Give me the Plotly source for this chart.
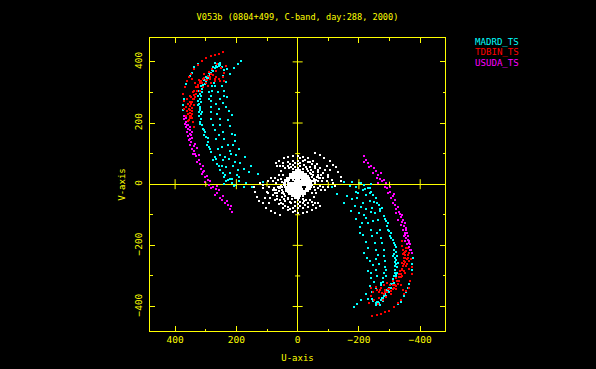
import plotly.graph_objects as go

TITLE = "V053b (0804+499, C-band, day:288, 2000)"
major_ticks = [-400, -200, 0, 200, 400]
minor_ticks = [-300, -100, 100, 300]

madrid_uv = [
 (326,392),(337,384),(346,365),(353,354),(361,338),(363,327),(372,279),(374,260),(375,241),
 (255,396),(261,392),(266,387),(271,379),(275,371),(282,365),(288,354),(293,347),(299,338),(304,327),
 (310,317),(313,300),(317,289),(318,279),(317,268),(318,254),(318,241),(315,228),(315,214),(313,192),
 (310,181),(302,170),(299,154),(293,138),(288,121),(282,105),(275,78),(264,67),(255,46),(239,24),(228,13),
 (270,395),(258,385),(277,382),(290,365),(298,352),(306,340),(316,322),(322,305),(325,290),(324,272),
 (326,258),(323,236),(322,222),(320,205),(306,160),(296,128),(270,88),(248,58),(236,30),
 (231,376),(244,354),(255,338),(271,322),(279,306),(282,289),(284,271),(284,251),(283,235),(282,214),
 (275,192),(271,176),(268,149),(261,116),(252,94),(244,78),(235,56),(222,35),(214,18),(208,-5),
 (184,403),(195,392),(208,379),(222,360),(235,333),(239,306),(255,279),(257,246),(255,214),(252,192),
 (244,170),(239,149),(228,127),(217,100),(206,73),(195,46),(190,24),(176,-8),
 (231,284),(235,251),(228,210),(222,189),(214,165),(203,140),(190,115),(173,89),(152,60),(130,33),(113,8),
 (260,300),(248,320),(266,262),(262,230),(258,160),(246,120),(224,82),(212,60),(198,30),(150,-8),
 (263,384),(279,372),(286,360),(296,345),(308,325),(312,310),(320,296),(322,262),(320,248),(312,236),
 (318,198),(306,176),(294,150),(285,115),(268,82),(258,60),(245,36),(220,16),(235,12),(190,10),(200,-3),
 (215,3),(240,0),(170,5),(255,390),(246,382),(242,375),(272,330),(280,320),(288,300),(290,280),(240,290),
 (245,265),(225,240),(215,225),(205,160),(210,128),(222,110),(238,90),(200,95),(188,70),(176,50),(160,40),
]
tdbin_uv = [
 (244,431),(258,427),(271,424),(284,418),(299,414),(313,402),(326,389),(337,378),(348,360),(355,349),
 (362,338),(367,317),(373,295),(372,271),(370,246),(364,224),(359,208),(340,186),
 (233,387),(250,379),(266,371),(282,360),(293,354),(310,344),(320,333),(331,317),(342,300),(348,284),
 (353,268),(356,246),(359,230),(353,217),(342,203),
 (239,338),(255,336),(271,338),(282,331),(293,322),(310,317),(320,306),(331,295),(342,279),(348,262),
 (351,241),(348,224),
 (315,338),(322,342),(312,330),(326,325),(305,348),(298,342),(288,368),(276,356),(265,352),
 (338,305),(335,285),(345,268),(340,258),(360,240),(352,232),(346,250),(364,252),(344,228),
 (300,330),(286,345),(262,392),(278,378),
 (318,330),(325,318),(330,305),(337,292),(340,278),(346,240),(350,222),(355,210),(344,215),(350,290),
 (305,360),(295,342),(285,352),(270,345),(258,345),(245,352),(240,365),(352,255),(358,262),(362,278),
 (336,330),(345,345),
]
usuda_uv = [
 (372,224),(370,214),(367,197),(364,186),(359,181),(353,176),(361,170),(357,159),(353,149),(348,138),
 (355,143),(351,127),(344,116),(337,108),(342,100),(331,91),(322,94),(329,73),(318,67),(317,51),
 (310,40),(313,33),(302,24),(293,13),(302,8),(288,-3),(275,-9),(282,-14),(268,-17),(271,-36),(262,-30),
 (248,-52),(255,-44),(229,-68),(238,-60),(215,-91),(222,-80),(365,205),(358,195),(349,160),(340,125),
 (366,215),(362,192),(352,186),(346,170),(345,150),(336,132),(328,118),(334,98),(322,80),(310,60),
 (305,44),(296,28),(285,10),(262,-5),(258,-20),(245,-38),(232,-55),(218,-72),(352,165),
]
other_uv = [
 (60,77),(46,85),(31,90),(16,93),(0,93),(-16,90),(-33,85),(-49,77),(-62,66),(-74,52),(-82,36),(-82,20),
 (-58,101),(-74,94),(-87,87),(-104,77),(-114,63),(-125,55),(-133,41),(-140,25),(-142,9),(-114,3),(-123,-5),
 (49,68),(33,74),(16,77),(0,77),(-16,77),(-33,74),(-47,66),(-58,52),(-68,39),(-74,20),
 (33,60),(16,63),(0,66),(-22,63),(-40,55),(-51,41),(-62,23),(-65,9),
 (16,50),(0,52),(-18,50),(-33,44),(-44,33),(-52,18),(-55,5),
 (98,9),(82,9),(65,14),(112,-13),(98,-29),(82,-35),(70,-20),(58,-12),(66,-30),
 (72,70),(66,60),(58,60),(48,58),(40,52),(28,52),(-8,86),(-25,80),(-41,72),(-55,60),(-66,48),(-75,30),
 (-78,12),(-68,28),(-60,14),(8,70),(-8,70),(25,67),(-26,57),(-45,47),(-50,30),(-58,8),
 (22,55),(8,57),(-8,59),(-30,50),(-40,38),(-48,24),(-50,10),(54,42),(60,30),(48,30),(55,18),(52,8),(72,5),
 (-90,45),(-95,60),(-105,45),(-100,25),(-95,10),(75,20),(88,20),
 (46,3),(40,3),(33,3),(26,3),(20,3),(13,3),(7,3),(0,3),(-7,3),(-13,3),(-20,3),(-26,3),(-33,3),(-40,3),(-44,3),
 (42,9),(36,9),(30,9),(10,9),(3,9),(-3,9),(-10,9),(-16,9),(-23,9),(-29,9),(-36,9),(-42,9),
 (40,15),(34,15),(27,15),(14,15),(7,15),(0,15),(-6,15),(-13,15),(-20,15),(-26,15),(-33,15),(-39,15),
 (35,21),(28,21),(22,21),(15,21),(9,21),(2,21),(-5,21),(-11,21),(-18,21),(-24,21),(-31,21),(-37,21),
 (24,27),(18,27),(12,27),(5,27),(-1,27),(-8,27),(-14,27),(-21,27),(-27,27),(-33,27),
 (24,33),(18,33),(11,33),(4,33),(-2,33),(-9,33),(-15,33),(-22,33),(-28,33),
 (16,39),(9,39),(2,39),(-4,39),(-11,39),(-17,39),(5,45),(-2,45),(-9,45),
]
legend_names = ["MADRD_TS", "TDBIN_TS", "USUDA_TS"]
legend_colors = ["#00ffff", "#ff0000", "#ff00ff"]

YEL = "#ffff00"
FONT = "DejaVu Sans Mono"

fig = go.Figure()
for uv, color, size in [(madrid_uv, legend_colors[0], 2), (tdbin_uv, legend_colors[1], 2),
                        (usuda_uv, legend_colors[2], 2), (other_uv, "#ffffff", 2)]:
    u = [p[0] for p in uv] + [-p[0] for p in uv]
    v = [p[1] for p in uv] + [-p[1] for p in uv]
    fig.add_trace(go.Scatter(x=u, y=v, mode="markers", showlegend=False,
                             marker=dict(symbol="square", size=size, color=color, line=dict(width=0))))

axis = dict(tickmode="array", tickvals=major_ticks, ticks="inside", ticklen=5, tickwidth=1, tickcolor=YEL,
            showgrid=False, showline=True, linecolor=YEL, linewidth=1, mirror="ticks", automargin=False,
            zeroline=True, zerolinecolor=YEL, zerolinewidth=1,
            tickfont=dict(family=FONT, size=9.5, color=YEL),
            minor=dict(tickmode="array", tickvals=minor_ticks, ticks="inside", ticklen=2.5, tickwidth=1,
                       tickcolor=YEL, showgrid=False))
fig.update_layout(
    width=596, height=369, autosize=False,
    paper_bgcolor="#000000", plot_bgcolor="#000000",
    margin=dict(l=150.3, r=150.7, t=37.7, b=37.7, pad=0),
    xaxis=dict(axis, range=[482, -481], tickangle=0, ticklabelstandoff=0,
               title=dict(text="U-axis", font=dict(family=FONT, size=9, color=YEL), standoff=10)),
    yaxis=dict(axis, range=[-480, 478], tickangle=-90, ticklabelstandoff=3,
               title=dict(text="V-axis", font=dict(family=FONT, size=9, color=YEL), standoff=6)),
    title=dict(text=TITLE, font=dict(family=FONT, size=8.6, color=YEL), x=297.5/596, xanchor="center",
               y=1-17/369, yanchor="middle"),
)
shapes = []
for t in major_ticks + minor_ticks:
    if t == 0:
        continue
    half = 5 if t in major_ticks else 2.5
    shapes.append(dict(type="line", xref="x", yref="y", ysizemode="pixel", yanchor=0, x0=t, x1=t, y0=-half, y1=half,
                       line=dict(color=YEL, width=1)))
    shapes.append(dict(type="line", xref="x", yref="y", xsizemode="pixel", xanchor=0, y0=t, y1=t, x0=-half, x1=half,
                       line=dict(color=YEL, width=1)))
fig.update_layout(shapes=shapes)
for name, color, y in zip(legend_names, legend_colors, [41.5, 52, 62.5]):
    fig.add_annotation(text=name, xref="paper", yref="paper", showarrow=False,
                       x=(521-150.3)/295, y=1-(y-37.7)/293.6, xanchor="right", yanchor="middle",
                       font=dict(family=FONT, size=9.1, color=color))
fig.write_html("out.html", config={"displayModeBar": False},
               post_script="document.documentElement.style.background='#000';document.body.style.margin='0';document.body.style.background='#000';document.body.style.overflow='hidden';document.querySelectorAll('.scatterlayer path.point').forEach(function(p){p.setAttribute('shape-rendering','crispEdges');});")
